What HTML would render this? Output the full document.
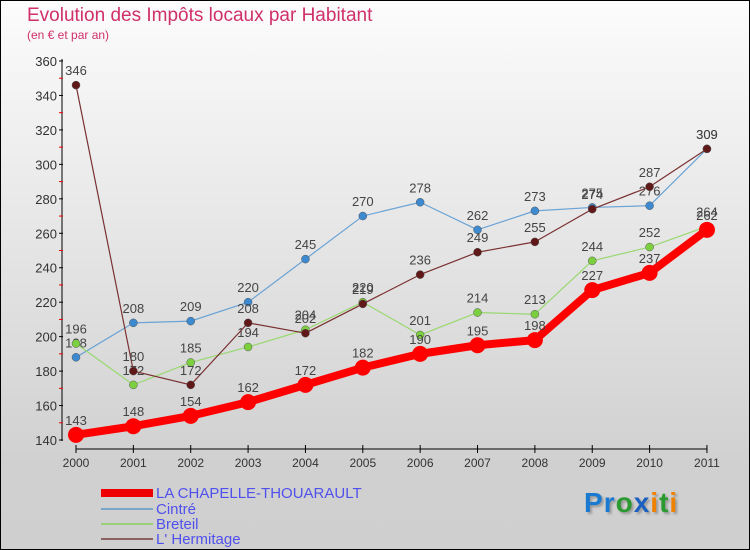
<!DOCTYPE html>
<html><head><meta charset="utf-8"><style>
body{margin:0}
#c{width:750px;height:550px;position:relative;box-sizing:border-box;border:1px solid #000;background:linear-gradient(#fcfcfc,#d0d0d0 85%,#cfcfcf);font-family:"Liberation Sans",sans-serif;overflow:hidden}
.t{position:absolute;left:26px;top:4px;font-size:19px;color:#d0306a}
.s{position:absolute;left:26px;top:27px;font-size:12px;color:#d0306a}
.lg{position:absolute;left:100px;font-size:15px;color:#5050ee;line-height:15px}
.sw{position:absolute;left:100px;width:52px}
</style></head><body>
<div id="c">
<div class="t">Evolution des Impôts locaux par Habitant</div>
<div class="s">(en € et par an)</div>
<svg id="g" width="750" height="550" style="position:absolute;left:0;top:0"></svg>
<div class="sw" style="top:488px;height:8px;background:#e00"></div>
<div class="lg" style="left:155px;top:485px">LA CHAPELLE-THOUARAULT</div>
<div class="sw" style="top:507px;height:2px;background:#7aa6c8"></div>
<div class="lg" style="left:155px;top:501px">Cintré</div>
<div class="sw" style="top:522px;height:2px;background:#99d07a"></div>
<div class="lg" style="left:155px;top:516px">Breteil</div>
<div class="sw" style="top:537px;height:2px;background:#8a6060"></div>
<div class="lg" style="left:155px;top:531px">L' Hermitage</div>
<div style="position:absolute;left:583px;top:486px;font-size:28px;font-weight:bold;letter-spacing:1px;text-shadow:2px 2px 2px #999"><span style="color:#1a7ad0">P</span><span style="color:#1a7ad0">r</span><span style="color:#2a9a30">o</span><span style="color:#1a60c0">x</span><span style="color:#f08000">i</span><span style="color:#2a9a30">t</span><span style="color:#f08000">i</span></div>
</div>
<script>
const years=["2000","2001","2002","2003","2004","2005","2006","2007","2008","2009","2010","2011"];
const chapelle=[143,148,154,162,172,182,190,195,198,227,237,262];
const cintre=[188,208,209,220,245,270,278,262,273,275,276,309];
const breteil=[196,172,185,194,204,220,201,214,213,244,252,264];
const hermitage=[346,180,172,208,202,219,236,249,255,274,287,309];
const yTicks=[140,160,180,200,220,240,260,280,300,320,340,360];
const NS="http://www.w3.org/2000/svg";
const g=document.getElementById('g');
const X=i=>75+i*57.36;
const Y=v=>439-(v-140)*(379/220);
function el(t,a){const e=document.createElementNS(NS,t);for(const k in a)e.setAttribute(k,a[k]);g.appendChild(e);return e;}
let e=el('line',{x1:61,y1:58,x2:61,y2:440,stroke:'#000'});


e=el('line',{x1:75,y1:448,x2:706,y2:448,stroke:'#000'});


yTicks.forEach((v,i)=>{
 let t=el('line',{x1:58,y1:Y(v),x2:62,y2:Y(v),stroke:'#000'});
 
 
 if(i<yTicks.length-1){let m=el('line',{x1:58,y1:Y(v+10),x2:62,y2:Y(v+10),stroke:'#e00'});
 
 }
 let l=el('text',{x:56,y:Y(v)+5,'text-anchor':'end','font-size':13,fill:'#333','font-family':'Liberation Sans'});
 l.textContent=v;
 
 
});
years.forEach((y,i)=>{
 let t=el('line',{x1:X(i),y1:444,x2:X(i),y2:452,stroke:'#000'});
 
 
 let l=el('text',{x:X(i),y:466,'text-anchor':'middle','font-size':12,fill:'#333','font-family':'Liberation Sans'});
 l.textContent=y;
 
 
});
function series(d,col,dot,w,r,name){
 let p=el('polyline',{points:d.map((v,i)=>X(i)+','+Y(v)).join(' '),fill:'none',stroke:col,'stroke-width':w,'stroke-linejoin':'round'});
 
 
 d.forEach((v,i)=>{
  let c=el('circle',{cx:X(i),cy:Y(v),r:r,fill:dot,stroke:w>3?'none':'#555','stroke-width':0.5});
  
  
  let l=el('text',{x:X(i),y:Y(v)-10,'text-anchor':'middle','font-size':13,fill:'#444','font-family':'Liberation Sans'});
  l.textContent=v;
  
  
 });
}
series(cintre,'#6aa3d5','#3d8ad0',1.2,4,'cintre');
series(breteil,'#99d870','#7cd040',1.2,4,'breteil');
series(hermitage,'#7a3030','#601818',1.2,4,'hermitage');
series(chapelle,'#f00','#f00',8,8,'chapelle');
</script>
</body></html>
